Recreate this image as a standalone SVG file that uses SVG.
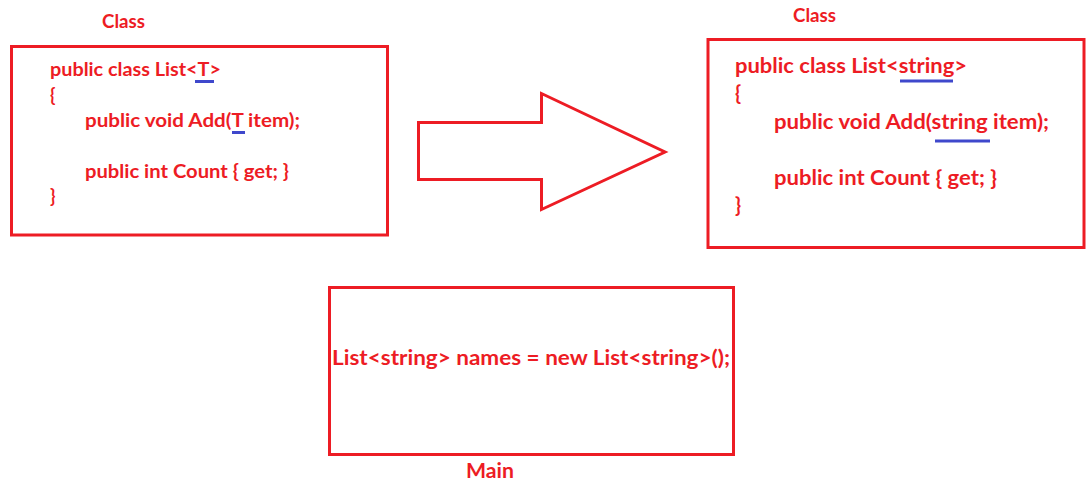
<svg xmlns="http://www.w3.org/2000/svg" width="1087" height="483" viewBox="0 0 1087 483">
<style>
.box{fill:#fff;stroke:#ED1C24;stroke-width:3}
.t{font-family:Lato,"Open Sans","Liberation Sans",sans-serif;font-weight:bold;fill:#ED1C24}
.s{font-size:18px}
.m{font-size:20px}
.ul{stroke:#3F48CC;stroke-width:3;fill:none}
</style>
<rect width="1087" height="483" fill="#fff"/>
<g id="generic-class">
<text class="t s" x="102" y="28" textLength="43" lengthAdjust="spacingAndGlyphs">Class</text>
<rect class="box" x="11.5" y="46.5" width="376" height="188.5"/>
<text class="t s" x="50" y="76" textLength="171" lengthAdjust="spacingAndGlyphs">public class List&lt;T&gt;</text>
<text class="t s" x="50" y="102">{</text>
<text class="t s" x="85" y="127" textLength="215" lengthAdjust="spacingAndGlyphs">public void Add(T item);</text>
<text class="t s" x="85" y="178" textLength="204" lengthAdjust="spacingAndGlyphs">public int Count { get; }</text>
<text class="t s" x="50" y="203">}</text>
<line class="ul" x1="195" y1="81.5" x2="214" y2="81.5"/>
<line class="ul" x1="232" y1="132.5" x2="245" y2="132.5"/>
</g>
<g id="string-class">
<text class="t s" x="793" y="22" textLength="43" lengthAdjust="spacingAndGlyphs">Class</text>
<rect class="box" x="708" y="39.5" width="376" height="208"/>
<text class="t m" x="735" y="73" textLength="232" lengthAdjust="spacingAndGlyphs">public class List&lt;string&gt;</text>
<text class="t m" x="735" y="100">{</text>
<text class="t m" x="774" y="129" textLength="275" lengthAdjust="spacingAndGlyphs">public void Add(string item);</text>
<text class="t m" x="774" y="185" textLength="223" lengthAdjust="spacingAndGlyphs">public int Count { get; }</text>
<text class="t m" x="735" y="212">}</text>
<line class="ul" x1="900" y1="81" x2="953" y2="81"/>
<line class="ul" x1="935" y1="141" x2="990" y2="141"/>
</g>
<g id="main">
<rect class="box" x="329.5" y="287.5" width="404" height="167"/>
<text class="t m" x="332" y="365" textLength="398" lengthAdjust="spacingAndGlyphs">List&lt;string&gt; names = new List&lt;string&gt;();</text>
<text class="t m" x="466" y="478" textLength="48" lengthAdjust="spacingAndGlyphs">Main</text>
</g>
<g id="connectors">
<polygon class="box" points="418.5,122.5 541.5,122.5 541.5,93.5 665,152 541.5,209.5 541.5,179.5 418.5,179.5"/>
</g>
</svg>
